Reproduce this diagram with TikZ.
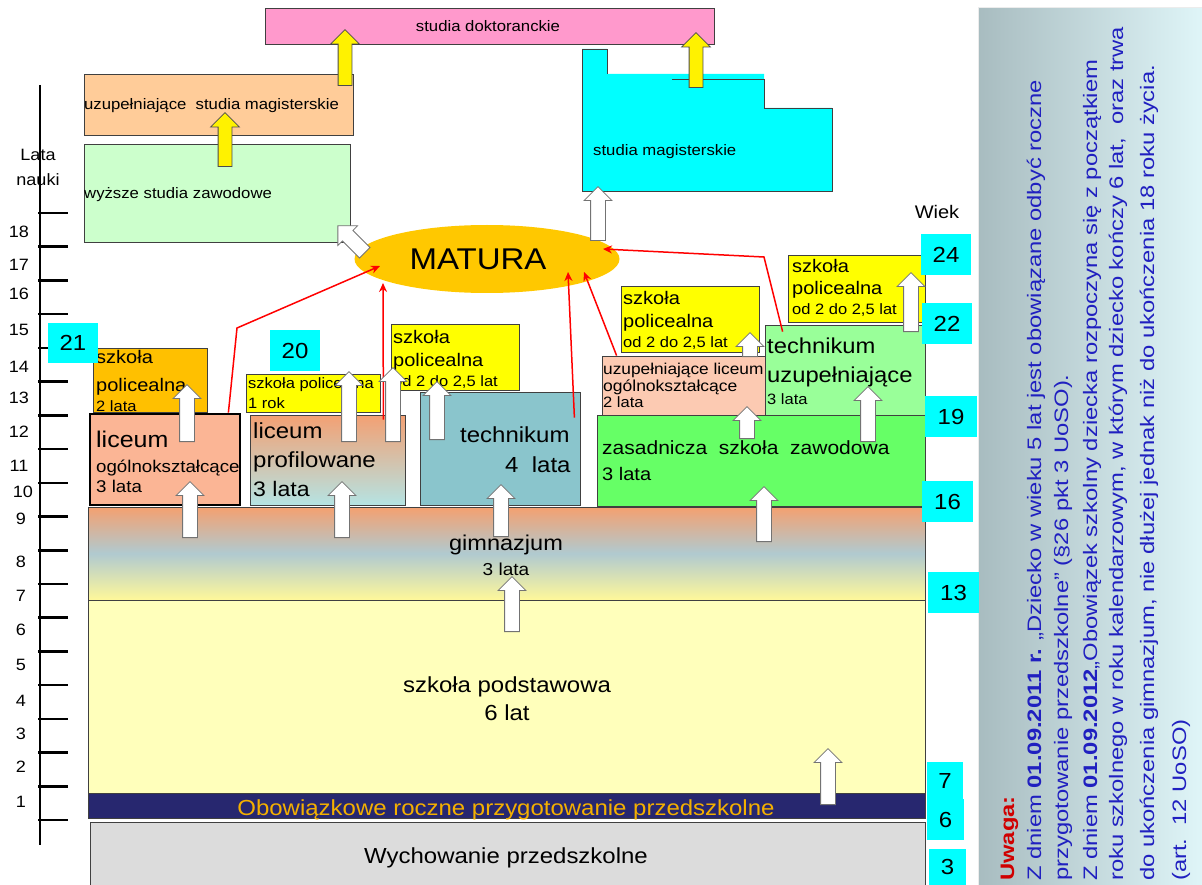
\documentclass[tikz,border=0pt]{standalone}
\usepackage{fontspec}
\setmainfont{Liberation Sans}[FakeStretch=1.1]
\newfontfamily\notefont{Liberation Sans}[FakeStretch=1.22]
\usetikzlibrary{shapes.geometric, shapes.arrows, arrows.meta, fit}

\definecolor{preschoolgray}{HTML}{DCDCDC}
\definecolor{navy}{HTML}{27276F}
\definecolor{orangetext}{HTML}{F4B000}
\definecolor{primaryyellow}{HTML}{FFFFBB}
\definecolor{gimtop}{HTML}{F4A070}
\definecolor{gimmid}{HTML}{B0CAD0}
\definecolor{gimbottom}{HTML}{FFF89A}
\definecolor{salmon}{HTML}{FBB595}
\definecolor{proftop}{HTML}{F3A073}
\definecolor{profbottom}{HTML}{B5E3E3}
\definecolor{techblue}{HTML}{8AC5CC}
\definecolor{vocgreen}{HTML}{66FF66}
\definecolor{peach}{HTML}{FCCAB2}
\definecolor{lightgreen}{HTML}{99FF99}
\definecolor{polorange}{HTML}{FFC000}
\definecolor{polyellow}{HTML}{FFFF00}
\definecolor{maturaorange}{HTML}{FFC800}
\definecolor{wszgreen}{HTML}{CCFFCC}
\definecolor{usmpeach}{HTML}{FFCC99}
\definecolor{dokpink}{HTML}{FF99CC}
\definecolor{agecyan}{HTML}{00FFFF}
\definecolor{notetext}{HTML}{2020C0}
\definecolor{uwagared}{HTML}{D00000}
\definecolor{panelleft}{HTML}{A8BCC0}
\definecolor{panelright}{HTML}{DFF5F8}

\newcommand{\fsize}[1]{\fontsize{#1}{#1}\selectfont}

\tikzstyle{stage} = [rectangle, draw=black!75, line width=0.8pt, inner sep=0pt]
\tikzstyle{postsec} = [stage, fill=polyellow]
\tikzstyle{agebox} = [rectangle, fill=agecyan, inner sep=0pt, minimum width=50pt, minimum height=41pt, font=\fsize{21.8}]
\tikzstyle{txt} = [inner sep=0pt, anchor=base west]
\tikzstyle{txtc} = [inner sep=0pt, anchor=base]
\tikzstyle{yearlbl} = [inner sep=0pt, font=\fsize{16.4}]
\tikzstyle{notepanel} = [rectangle, inner sep=0pt, left color=panelleft, right color=panelright, draw=white!85!gray, line width=1pt]
\tikzstyle{notetxt} = [rotate=90, inner sep=0pt, anchor=base west, font=\notefont\fsize{19.5}, text=notetext]
\tikzstyle{whitearrow} = [single arrow, draw=black!55, fill=white, line width=0.8pt, minimum width=27pt, single arrow head extend=6.5pt, inner xsep=0pt, inner ysep=7pt, anchor=tail]
\tikzstyle{blockup} = [whitearrow, rotate=90]
\tikzstyle{yellowup} = [blockup, fill=yellow, draw=black!70, inner ysep=6.5pt, single arrow head extend=7.5pt, minimum width=28pt]
\tikzstyle{redline} = [draw=red, line width=1.5pt, -{Stealth[length=9pt, width=8pt]}]

\begin{document}
\begin{tikzpicture}[x=1pt, y=-1pt]
    \useasboundingbox (0,0) rectangle (1202,885);

    % note on the right
    \node (note) [notepanel, fit={(978,8) (1202,890)}] {};
    \node (note1) [notetxt, text=uwagared] at (1014,881) {\textbf{Uwaga:}};
    \node (note2) [notetxt] at (1041,881) {Z dniem \textbf{01.09.2011 r.} „Dziecko w wieku 5 lat jest obowiązane odbyć roczne};
    \node (note3) [notetxt] at (1068,881) {przygotowanie przedszkolne” (§26 pkt 3 UoSO).};
    \node (note4) [notetxt] at (1097,881) {Z dniem \textbf{01.09.2012}„Obowiązek szkolny dziecka rozpoczyna się z początkiem};
    \node (note5) [notetxt] at (1123,881) {roku szkolnego w roku kalendarzowym, w którym dziecko kończy 6 lat,\ \ oraz trwa};
    \node (note6) [notetxt] at (1154,881) {do ukończenia gimnazjum, nie dłużej jednak niż do ukończenia 18 roku życia.};
    \node (note7) [notetxt] at (1186,881) {(art.\ \ 12 UoSO)};

    % years axis
    \draw [line width=1.3pt] (40,85) -- (40,845);
    \foreach \i in {0,...,18}
        \draw [line width=2.6pt] (38,{820-33.72*\i}) -- (68,{820-33.72*\i});
    \foreach \n/\xx/\yy in {18/19/232, 17/19/265, 16/19/294, 15/19/330, 14/19/367, 13/19/398,
                            12/19/432, 11/19/466, 10/23/492, 9/21/519, 8/21/562, 7/21/596,
                            6/21/630, 5/21/665, 4/21/701, 3/21/734, 2/21/767, 1/21/802}
        \node (year\n) [yearlbl] at (\xx,\yy) {\n};
    \node (lata) [txtc, font=\fsize{16.4}] at (38,161) {Lata};
    \node (nauki) [txtc, font=\fsize{16.4}] at (38,186) {nauki};
    \node (wiek) [font=\fsize{18.2}, inner sep=0pt] at (937,212) {Wiek};

    % schools
    \node (wp) [stage, fill=preschoolgray, fit={(90,822) (925,892)}] {};
    \node (orp) [stage, fill=navy, fit={(88,793) (925,818)}] {};
    \node (sp) [stage, fill=primaryyellow, fit={(88,600) (925,793)}] {};
    \node (gim) [stage, top color=gimtop, bottom color=gimbottom, middle color=gimmid, fit={(88,507) (925,600)}] {};
    \node (lo) [stage, fill=salmon, draw=black, line width=2.8pt, fit={(90,414) (240,505)}] {};
    \node (lp) [stage, top color=proftop, bottom color=profbottom, fit={(250,415) (405,505)}] {};
    \node (tech) [stage, fill=techblue, fit={(420,392) (580,505)}] {};
    \node (zsz) [stage, fill=vocgreen, fit={(597,415) (925,506)}] {};
    \node (ul) [stage, fill=peach, fit={(602,356) (765,415)}] {};
    \node (tu) [stage, fill=lightgreen, fit={(765,325) (925,415)}] {};
    \node (pol2) [stage, fill=polorange, fit={(93,348) (207,412)}] {};
    \node (pol1) [postsec, fit={(246,374) (380,412)}] {};
    \node (pol25a) [postsec, fit={(391,324) (519,390)}] {};
    \node (pol25b) [postsec, fit={(621,286) (759,352)}] {};
    \node (pol25c) [postsec, fit={(788,255) (925,322)}] {};
    \node (matura) [ellipse, fill=maturaorange, minimum width=265pt, minimum height=68pt, inner sep=0pt] at (487,259) {};
    \node (wsz) [stage, fill=wszgreen, fit={(84,144) (350,242)}] {};
    \node (usm) [stage, fill=usmpeach, fit={(84,74) (353,135)}] {};
    \node (dok) [stage, fill=dokpink, fit={(265,8) (714,44)}] {};
    \fill [agecyan] (582,49) -- (607,49) -- (607,74) -- (764,74) -- (764,108) -- (832,108) -- (832,191) -- (582,191) -- cycle;
    \draw [draw=black!75, line width=0.8pt] (672,79) -- (764,79) -- (764,108) -- (832,108) -- (832,191)
        -- (582,191) -- (582,49) -- (607,49) -- (607,74);

    % texts
    \node (wpt) [txtc, font=\fsize{21.8}] at (506,863) {Wychowanie przedszkolne};
    \node (orpt) [txtc, font=\fsize{21.8}, text=orangetext] at (506,815) {Obowiązkowe roczne przygotowanie przedszkolne};
    \node (spt1) [txtc, font=\fsize{21.8}] at (507,692) {szkoła podstawowa};
    \node (spt2) [txtc, font=\fsize{21.8}] at (507,720) {6 lat};
    \node (gimt1) [txtc, font=\fsize{21.4}] at (506,550) {gimnazjum};
    \node (gimt2) [txtc, font=\fsize{17.3}] at (506,575) {3 lata};
    \node (lot1) [txt, font=\fsize{22.7}] at (96,447) {liceum};
    \node (lot2) [txt, font=\fsize{17}] at (96,472) {ogólnokształcące};
    \node (lot3) [txt, font=\fsize{17}] at (96,492) {3 lata};
    \node (lpt1) [txt, font=\fsize{21.8}] at (253,438) {liceum};
    \node (lpt2) [txt, font=\fsize{21.8}] at (253,467) {profilowane};
    \node (lpt3) [txt, font=\fsize{21}] at (253,496) {3 lata};
    \node (techt1) [txt, font=\fsize{21.8}] at (460,442) {technikum};
    \node (techt2) [txt, font=\fsize{21.8}] at (505,472) {4\ \ lata};
    \node (zszt1) [txt, font=\fsize{19.1}] at (602,454) {zasadnicza\ \ szkoła\ \ zawodowa};
    \node (zszt2) [txt, font=\fsize{18.2}] at (602,480) {3 lata};
    \node (ult1) [txt, font=\fsize{15.7}] at (603,374) {uzupełniające liceum};
    \node (ult2) [txt, font=\fsize{15.9}] at (603,391) {ogólnokształcące};
    \node (ult3) [txt, font=\fsize{15}] at (603,407) {2 lata};
    \node (tut1) [txt, font=\fsize{21.6}] at (767,353) {technikum};
    \node (tut2) [txt, font=\fsize{21.6}] at (767,382) {uzupełniające};
    \node (tut3) [txt, font=\fsize{15}] at (767,404) {3 lata};
    \node (pol2t1) [txt, font=\fsize{18.2}] at (96,363) {szkoła};
    \node (pol2t2) [txt, font=\fsize{18.2}] at (96,391) {policealna};
    \node (pol2t3) [txt, font=\fsize{15}] at (96,411) {2 lata};
    \node (pol1t1) [txt, font=\fsize{15}] at (248,388) {szkoła policealna};
    \node (pol1t2) [txt, font=\fsize{15}] at (248,408) {1 rok};
    \node (pol25at1) [txt, font=\fsize{18.2}] at (393,343) {szkoła};
    \node (pol25at2) [txt, font=\fsize{18.2}] at (393,366) {policealna};
    \node (pol25at3) [txt, font=\fsize{15}] at (393,386) {od 2 do 2,5 lat};
    \node (pol25bt1) [txt, font=\fsize{18.2}] at (623,305) {szkoła};
    \node (pol25bt2) [txt, font=\fsize{18.2}] at (623,327) {policealna};
    \node (pol25bt3) [txt, font=\fsize{15}] at (623,347) {od 2 do 2,5 lat};
    \node (pol25ct1) [txt, font=\fsize{18.2}] at (792,273) {szkoła};
    \node (pol25ct2) [txt, font=\fsize{18.2}] at (792,295) {policealna};
    \node (pol25ct3) [txt, font=\fsize{15}] at (792,315) {od 2 do 2,5 lat};
    \node (maturat) [font=\fsize{30}, inner sep=0pt] at (478,259) {MATURA};
    \node (dokt) [txtc, font=\fsize{15.2}] at (488,32) {studia doktoranckie};
    \node (usmt) [txt, font=\fsize{15.2}] at (84,110) {uzupełniające\ \ studia magisterskie};
    \node (wszt) [txt, font=\fsize{15.2}] at (84,199) {wyższe studia zawodowe};
    \node (smt) [txt, font=\fsize{15.2}] at (593,156) {studia magisterskie};

    % paths to the matura
    \coordinate (m1) at (380,266);
    \coordinate (m2) at (383,283);
    \coordinate (m3) at (568,272);
    \coordinate (m4) at (584,272);
    \coordinate (m5) at (603,249);
    \coordinate (bend1) at (237,328);
    \coordinate (bend5) at (764,257);
    \draw [redline] ([xshift=-13pt]lo.north east) -- (bend1) -- (m1);
    \draw [redline] ([xshift=-22pt,yshift=-5pt]lp.north east) -- (m2);
    \draw [redline] ([xshift=-6pt,yshift=-26pt]tech.north east) -- (m3);
    \draw [redline] ([xshift=15pt]ul.north west) -- (m4);
    \draw [redline] ([xshift=18pt,yshift=-7pt]tu.north west) -- (bend5) -- (m5);

    % block arrows
    \foreach \nm/\xx/\yb/\yt in {a/187/442/385, b/190/538/482, c/342/538/482, d/501/537/485,
                                 e/764/542/487, f/512/632/577, g/828/805/749, h/349/442/372,
                                 i/393/442/368, j/437/440/382, k/747/439/407, l/750/357/333,
                                 m/868/442/387, n/911/332/273, o/598/241/187}
        \node (arr\nm) [blockup, minimum height={\yb-\yt}] at (\xx,\yb) {};
    \node (arrp) [whitearrow, rotate=135, minimum height=38pt] at (365,253) {};
    \foreach \nm/\xx/\yb/\yt in {1/225/167/113, 2/345/86/30, 3/696/88/33}
        \node (yarr\nm) [yellowup, minimum height={\yb-\yt}] at (\xx,\yb) {};

    % ages
    \node (age24) [agebox] at (946,254.5) {24};
    \node (age22) [agebox] at (947,323.5) {22};
    \node (age19) [agebox, minimum width=52pt] at (951,416.5) {19};
    \node (age16) [agebox, minimum width=51pt] at (947.5,501.5) {16};
    \node (age13) [agebox, minimum width=51pt] at (953.5,592.5) {13};
    \node (age7) [agebox, minimum width=36pt, minimum height=37pt] at (945,780.5) {7};
    \node (age6) [agebox, minimum width=37pt] at (945.5,819.5) {6};
    \node (age3) [agebox, minimum width=37pt, minimum height=36pt] at (947.5,867) {3};
    \node (age21) [agebox, minimum height=40pt] at (73,343) {21};
    \node (age20) [agebox] at (295,350.5) {20};

\end{tikzpicture}
\end{document}
